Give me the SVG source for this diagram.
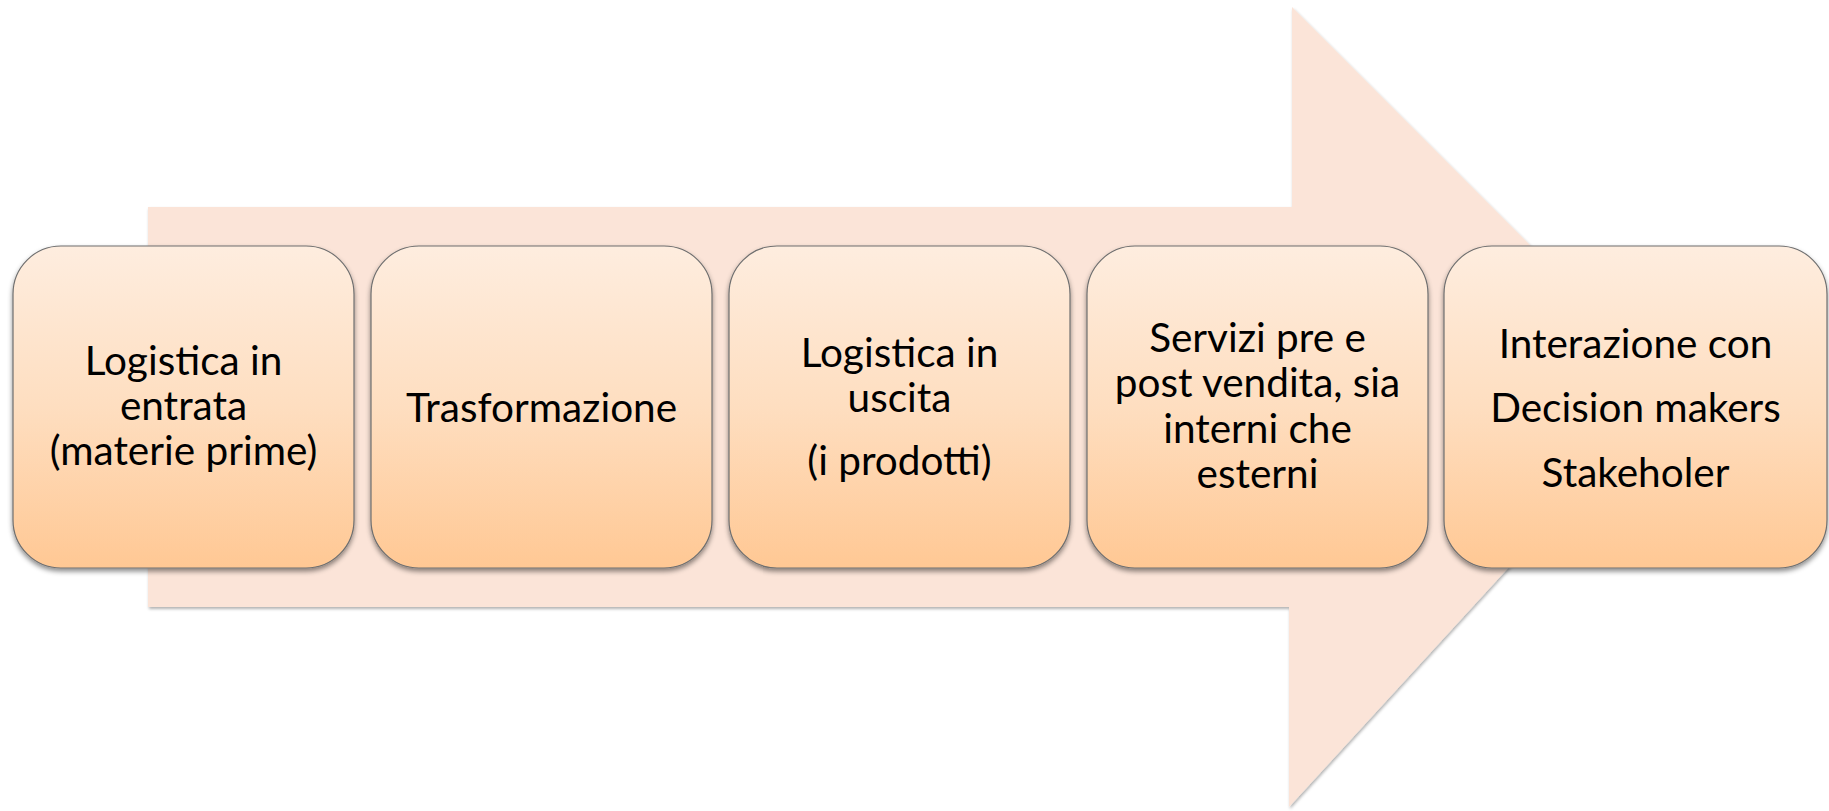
<svg xmlns="http://www.w3.org/2000/svg" width="1829" height="811" viewBox="0 0 1829 811">
  <defs>
    <linearGradient id="boxFill" x1="0" y1="0" x2="0" y2="1">
      <stop offset="0" stop-color="#FEEDDF"/>
      <stop offset="0.5" stop-color="#FEDEC0"/>
      <stop offset="1" stop-color="#FFC894"/>
    </linearGradient>
    <filter id="boxShadow" x="-10%" y="-10%" width="120%" height="125%">
      <feDropShadow dx="0" dy="3" stdDeviation="2.5" flood-color="#000" flood-opacity="0.45"/>
    </filter>
    <filter id="arrowShadow" x="-5%" y="-5%" width="110%" height="110%">
      <feDropShadow dx="1" dy="2" stdDeviation="1.5" flood-color="#000" flood-opacity="0.3"/>
    </filter>
  </defs>
  <style>
    .box { fill: url(#boxFill); stroke: #6f6f6f; stroke-width: 1.2; filter: url(#boxShadow); }
    .label { font-family: Lato, "Open Sans", "Liberation Sans", sans-serif; font-size: 40.5px; fill: #000; text-anchor: middle; }
  </style>

  <!-- background process arrow -->
  <g id="arrow">
    <polygon points="148,207 1292,207 1292,7 1673,388 1289,807 1289,607 148,607" fill="#FBE4D8" filter="url(#arrowShadow)"/>
  </g>

  <g id="connectors"></g>

  <g id="step1">
    <rect class="box" x="13" y="246" width="341" height="322" rx="48" ry="48"/>
    <text class="label" x="183.5" y="375">Logistica in</text>
    <text class="label" x="183.5" y="420">entrata</text>
    <text class="label" x="183.5" y="465">(materie prime)</text>
  </g>

  <g id="step2">
    <rect class="box" x="371" y="246" width="341" height="322" rx="48" ry="48"/>
    <text class="label" x="541.5" y="422">Trasformazione</text>
  </g>

  <g id="step3">
    <rect class="box" x="729" y="246" width="341" height="322" rx="48" ry="48"/>
    <text class="label" x="899.5" y="367">Logistica in</text>
    <text class="label" x="899.5" y="412">uscita</text>
    <text class="label" x="899.5" y="475">(i prodotti)</text>
  </g>

  <g id="step4">
    <rect class="box" x="1087" y="246" width="341" height="322" rx="48" ry="48"/>
    <text class="label" x="1257.5" y="352">Servizi pre e</text>
    <text class="label" x="1257.5" y="397">post vendita, sia</text>
    <text class="label" x="1257.5" y="443">interni che</text>
    <text class="label" x="1257.5" y="488">esterni</text>
  </g>

  <g id="step5">
    <rect class="box" x="1444" y="246" width="383" height="322" rx="48" ry="48"/>
    <text class="label" x="1635.5" y="358">Interazione con</text>
    <text class="label" x="1635.5" y="422">Decision makers</text>
    <text class="label" x="1635.5" y="487">Stakeholer</text>
  </g>
</svg>
